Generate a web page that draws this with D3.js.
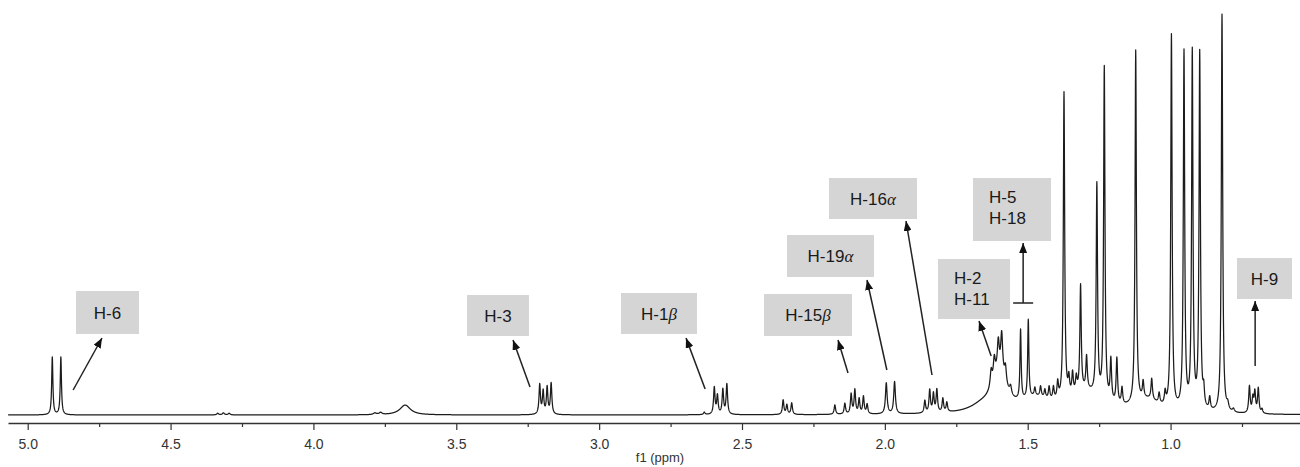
<!DOCTYPE html>
<html>
<head>
<meta charset="utf-8">
<script src="https://cdn.jsdelivr.net/npm/d3@7/dist/d3.min.js"></script>
<style>
body { margin:0; background:#fff; }
</style>
</head>
<body>
<div id="nmr-chart"></div>
<script>
// peak list: shift (ppm), height (relative, tallest ~100), half width (ppm)
var peakShifts = [4.914, 4.884,
	4.335, 4.315, 4.295, 3.785, 3.765, 3.679,
	3.208, 3.196, 3.182, 3.168,
	2.632, 2.597, 2.586, 2.567, 2.553,
	2.356, 2.343, 2.326,
	2.175, 2.140, 2.118, 2.105, 2.090, 2.075, 2.062,
	1.995, 1.966,
	1.860, 1.843, 1.830, 1.818, 1.797, 1.783,
	1.660, 1.600, 1.628, 1.617, 1.603, 1.591, 1.578, 1.560,
	1.525, 1.498, 1.470, 1.475, 1.455, 1.440, 1.425, 1.410, 1.395,
	1.300, 1.373, 1.356, 1.343, 1.330, 1.315, 1.294, 1.258, 1.232, 1.209, 1.188, 1.170,
	1.122, 1.080, 1.096, 1.066, 1.040, 1.019,
	0.997, 0.953, 0.924, 0.898, 0.884, 0.863, 0.820, 0.800, 0.780,
	0.724, 0.712, 0.705, 0.693, 0.680]
var peakHeights = [14, 14,
	0.4, 0.5, 0.4, 0.4, 0.5, 2.4,
	7.2, 5.5, 6.5, 7.5,
	0.6, 6.5, 4.5, 6, 7.3,
	3.5, 2.3, 2.8,
	2.3, 2.6, 4.8, 5.8, 3.6, 4.2, 2.3,
	7.5, 7.8,
	3, 5.5, 4.5, 5.5, 3.3, 2.3,
	1.5, 9, 4, 5, 7, 9.5, 4, 2,
	17, 19, 3, 2, 2.5, 2, 3, 3, 4,
	5, 74.5, 4, 5, 3.5, 25.6, 8, 51.2, 80.7, 10, 11, 4,
	85.7, 3, 4, 5, 2.5, 3,
	90.7, 86.7, 86.7, 86.7, 4, 3, 96.7, 1.5, 0.8,
	6.5, 3.5, 5, 6, 1]
var peakWidths = [0.0025, 0.0025,
	0.004, 0.004, 0.004, 0.006, 0.006, 0.022,
	0.003, 0.003, 0.003, 0.003,
	0.003, 0.003, 0.003, 0.003, 0.003,
	0.003, 0.003, 0.003,
	0.003, 0.003, 0.003, 0.003, 0.003, 0.003, 0.003,
	0.0035, 0.0035,
	0.003, 0.003, 0.003, 0.003, 0.003, 0.003,
	0.05, 0.03, 0.004, 0.004, 0.004, 0.004, 0.004, 0.004,
	0.0025, 0.0025, 0.06, 0.003, 0.003, 0.003, 0.003, 0.003, 0.003,
	0.07, 0.0028, 0.003, 0.003, 0.003, 0.0028, 0.003, 0.0028, 0.0028, 0.003, 0.003, 0.003,
	0.0028, 0.05, 0.003, 0.003, 0.003, 0.003,
	0.0028, 0.0028, 0.0028, 0.0028, 0.003, 0.003, 0.0028, 0.004, 0.004,
	0.003, 0.003, 0.003, 0.003, 0.003]

var tickValues = [5.0, 4.5, 4.0, 3.5, 3.0, 2.5, 2.0, 1.5, 1.0]
var minorTicks = [4.75, 4.25, 3.75, 3.25, 2.75, 2.25, 1.75, 1.25, 0.75]

// annotations: label lines and the shift each arrow starts from
var labelLines = [["H-6"], ["H-3"], ["H-1β"], ["H-15β"], ["H-19α"], ["H-16α"], ["H-2", "H-11"], ["H-5", "H-18"], ["H-9"]]
var labelShifts = [4.841, 3.242, 2.629, 2.129, 1.993, 1.835, 1.628, 1.516, 0.704]

function nmr_chart(){

	var width = 1300
	var height = 467
	var svg = d3.select('#nmr-chart')
		.append('svg')
		.attr('width', width)
		.attr('height', height)
		.style('font-family', 'Liberation Sans, Arial, sans-serif');

	var xScale = d3.scaleLinear()
		.domain([5.069, 0.547])
		.range([8, 1300]);
	var yScale = d3.scaleLinear()
		.domain([0, 100])
		.range([415, 3]);

	// sum of lorentzian lines
	var pts = d3.range(0.547, 5.069, 0.0005).map(function(p){
		var s = 0;
		for (var i = 0; i < peakShifts.length; i++) {
			var u = (p - peakShifts[i]) / peakWidths[i];
			s += peakHeights[i] / (1 + u*u);
		}
		return [p, s];
	});

	var line = d3.line()
		.x(function(d){ return xScale(d[0]); })
		.y(function(d){ return yScale(d[1]); });

	svg.append("path")
		.datum(pts)
		.attr("d", line)
		.attr("fill", "none")
		.attr("stroke", "#1c1c1c")
		.attr("stroke-width", 1.25)
		.attr("stroke-linejoin", "round");

	// axis
	var axisY = 423
	var xAxis = d3.axisBottom(xScale)
		.tickValues(tickValues)
		.tickFormat(d3.format(".1f"))
		.tickSize(7)
		.tickSizeOuter(0)
		.tickPadding(9);
	var ax = svg.append("g")
		.attr("transform", "translate(0," + axisY + ")")
		.call(xAxis);
	ax.select(".domain").attr("stroke", "#333").attr("stroke-width", 1.3);
	ax.selectAll(".tick line").attr("stroke", "#333").attr("stroke-width", 1.2);
	ax.selectAll(".tick text")
		.attr("fill", "#333")
		.style("font-size", "14px")
		.style("font-family", "Liberation Sans, Arial, sans-serif");

	var minor = svg.append("g")
		.attr("transform", "translate(0," + axisY + ")")
		.call(d3.axisBottom(xScale).tickValues(minorTicks).tickSize(4).tickFormat(""));
	minor.select(".domain").remove();
	minor.selectAll(".tick line").attr("stroke", "#333").attr("stroke-width", 1.2);

	svg.append("text")
		.attr("x", 660)
		.attr("y", 462)
		.attr("text-anchor", "middle")
		.attr("fill", "#333")
		.style("font-size", "13px")
		.text("f1 (ppm)");

	// label boxes: [left, top, right, bottom], arrow tail y, arrow head y / x
	var boxes = [
		{b:[76,291,139,334], ty:390, hx:102, hy:338},
		{b:[467,295,529,336], ty:387, hx:513, hy:340},
		{b:[621,293,697,334], ty:389, hx:686, hy:338},
		{b:[764,294,852,336], ty:373, hx:838, hy:340},
		{b:[787,235,874,277], ty:370, hx:867, hy:280},
		{b:[829,178,917,219], ty:375, hx:906, hy:221},
		{b:[938,259,1010,319], ty:356, hx:979, hy:321},
		{b:[973,178,1051,241], ty:303, hx:null, hy:243, bar:true},
		{b:[1237,258,1292,299], ty:366, hx:null, hy:301}
	];

	var defs = svg.append("defs");
	defs.append("marker")
		.attr("id", "head")
		.attr("viewBox", "0 0 10 8")
		.attr("refX", 10)
		.attr("refY", 4)
		.attr("markerWidth", 10)
		.attr("markerHeight", 8)
		.attr("markerUnits", "userSpaceOnUse")
		.attr("orient", "auto")
		.append("path")
		.attr("d", "M0,0L10,4L0,8Z")
		.attr("fill", "#111");

	boxes.forEach(function(o, i){
		var b = o.b;
		svg.append("rect")
			.attr("x", b[0]).attr("y", b[1])
			.attr("width", b[2]-b[0]).attr("height", b[3]-b[1])
			.attr("fill", "#d5d5d5");

		var lines = labelLines[i];
		var t = svg.append("text")
			.attr("fill", "#1a1a1a")
			.style("font-size", "17px");
		if (lines.length == 1) {
			t.attr("x", (b[0]+b[2])/2)
				.attr("y", (b[1]+b[3])/2 + 6)
				.attr("text-anchor", "middle");
		}
		lines.forEach(function(s, j){
			var ln = t.append("tspan");
			if (lines.length > 1) {
				ln.attr("x", b[0]+16).attr("y", b[1] + 25 + j*21);
			}
			var parts = s.split(/([αβ])/);
			parts.forEach(function(p){
				if (p == "") return;
				var ts = ln.append("tspan").text(p);
				if (p == "α" || p == "β") {
					ts.style("font-family", "Liberation Serif, Times New Roman, serif")
						.style("font-style", "italic");
				}
			});
		});

		var tx = xScale(labelShifts[i]);
		var hx = o.hx == null ? tx : o.hx;
		svg.append("line")
			.attr("x1", tx).attr("y1", o.ty)
			.attr("x2", hx).attr("y2", o.hy)
			.attr("stroke", "#222")
			.attr("stroke-width", 1.5)
			.attr("marker-end", "url(#head)");
		if (o.bar) {
			svg.append("line")
				.attr("x1", tx-10).attr("x2", tx+10)
				.attr("y1", o.ty).attr("y2", o.ty)
				.attr("stroke", "#222")
				.attr("stroke-width", 1.5);
		}
	});
}

nmr_chart()
</script>
</body>
</html>
